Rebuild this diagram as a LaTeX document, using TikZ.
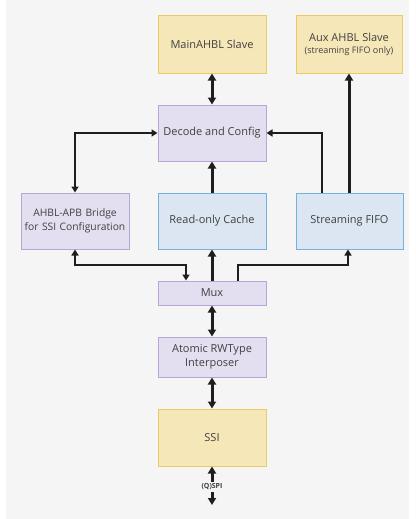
\documentclass[tikz,border=0pt]{standalone}
\usepackage{fontspec}
\setmainfont{Open Sans}
\usetikzlibrary{arrows.meta}
\definecolor{bgc}{HTML}{F5F5F5}
\definecolor{yfill}{HTML}{F6E7B9}
\definecolor{ydraw}{HTML}{EACB62}
\definecolor{pfill}{HTML}{E4DFF0}
\definecolor{pdraw}{HTML}{B9A5D6}
\definecolor{bfill}{HTML}{DCE6F3}
\definecolor{bdraw}{HTML}{72B2DC}
\definecolor{txt}{HTML}{404040}
\definecolor{arr}{HTML}{1E1E1E}
\tikzset{
  box/.style={draw, line width=1pt, minimum width=108pt, inner sep=1pt, align=center, text=txt, font=\fontsize{11}{14.5}\selectfont},
  ybox/.style={box, fill=yfill, draw=ydraw},
  pbox/.style={box, fill=pfill, draw=pdraw},
  bbox/.style={box, fill=bfill, draw=bdraw},
  thk/.style={draw=arr, line width=3pt, -{Triangle[length=7pt,width=8pt]}},
  thkd/.style={draw=arr, line width=3pt, {Triangle[length=7pt,width=8pt]}-{Triangle[length=7pt,width=8pt]}},
  thn/.style={draw=arr, line width=2pt, -{Triangle[length=6pt,width=7pt]}},
  thnd/.style={draw=arr, line width=2pt, {Triangle[length=6pt,width=7pt]}-{Triangle[length=6pt,width=7pt]}},
  lbl/.style={font=\bfseries\fontsize{7}{8}\selectfont, text=txt, fill=bgc, inner xsep=0.5pt, inner ysep=1.5pt},
}
\begin{document}
\begin{tikzpicture}[x=1pt,y=-1pt]
\useasboundingbox (0,0) rectangle (415,519);
\fill[bgc] (6,0) rectangle (409,519);
\node[ybox, minimum height=57pt] (main) at (212,44.5) {MainAHBL Slave};
\node[ybox, minimum height=57pt, minimum width=106pt] (aux) at (349,44.5) {Aux AHBL Slave\\[-2pt]{\fontsize{9}{11}\selectfont (streaming FIFO only)}};
\node[pbox, minimum height=56pt] (dec) at (212,133) {Decode and Config};
\node[pbox, minimum height=56pt, text width=106pt, font=\fontsize{10.3}{14.5}\selectfont] (apb) at (75,221) {AHBL-APB Bridge\\for SSI Configuration};
\node[bbox, minimum height=56pt] (cache) at (212,221) {Read-only Cache};
\node[bbox, minimum height=56pt, minimum width=107pt] (fifo) at (349.5,221) {Streaming FIFO};
\node[pbox, minimum height=24pt] (mux) at (212,293) {Mux};
\node[pbox, minimum height=40pt] (atom) at (212,357) {Atomic RWType\\Interposer};
\node[ybox, minimum height=57pt] (ssi) at (212,437.5) {SSI};
\coordinate (spi) at (212,505);
\coordinate (xl) at (186,265);
\coordinate (xr) at (348,265);

\draw[thkd] (main.south) -- (dec.north);
\draw[thk] (fifo.north -| aux.south) -- (aux.south);
\draw[thn] ([xshift=-27.5pt]fifo.north) |- (dec.east);
\draw[thnd] (dec.west) -| (apb.north);
\draw[thk] (cache.north) -- (dec.south);
\draw[thk] (mux.north) -- (cache.south);
\draw[thnd] (apb.south) |- (xl) -- (mux.north -| xl);
\draw[thn] ([xshift=26pt]mux.north) |- (xr) -- (fifo.south -| xr);
\draw[thkd] (mux.south) -- (atom.north);
\draw[thkd] (atom.south) -- (ssi.north);
\draw[thkd] (ssi.south) -- (spi);
\node[lbl] (spil) at (212,487) {(Q)SPI};
\end{tikzpicture}
\end{document}
